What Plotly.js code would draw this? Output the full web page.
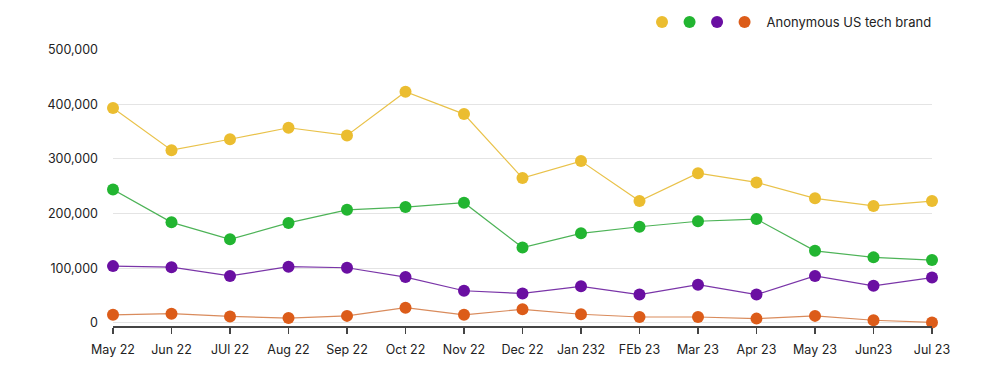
<!DOCTYPE html>
<html>
<head>
<meta charset="utf-8">
<script src="https://cdn.plot.ly/plotly-3.0.1.min.js"></script>
<style>html,body{margin:0;padding:0;background:#fff;}#chart{width:1000px;height:378px;}</style>
</head>
<body>
<div id="chart"></div>
<script>
const months = ["May 22","Jun 22","JUl 22","Aug 22","Sep 22","Oct 22","Nov 22","Dec 22","Jan 232","FEb 23","Mar 23","Apr 23","May 23","Jun23","Jul 23"];
const seriesNames = ["", "", "", "Anonymous US tech brand"];
const yellowValues = [393000,316000,336000,357000,343000,423000,382000,265000,296000,223000,274000,257000,228000,214000,223000];
const greenValues  = [244000,184000,153000,183000,207000,212000,220000,138000,164000,176000,186000,190000,132000,120000,115000];
const purpleValues = [104000,102000,86000,103000,101000,84000,59000,54000,67000,52000,70000,52000,86000,68000,83000];
const orangeValues = [15000,17000,12000,9000,13000,28000,15000,25000,16000,11000,11000,8000,13000,5000,1000];
const yTickVals = [0,100000,200000,300000,400000,500000];
const yTickText = ["0","100,000","200,000","300,000","400,000","500,000"];

const allValues = [yellowValues, greenValues, purpleValues, orangeValues];
const markerColors = ["#EBBD30", "#22B531", "#6A0FA2", "#DC5C19"];
const lineColors = ["#E9C24A", "#4DB357", "#7A35A8", "#D98B5C"];

const traces = [];
allValues.forEach((vals, i) => {
  traces.push({
    type: "scatter", mode: "lines", x: months, y: vals,
    line: {color: lineColors[i], width: 1.2},
    showlegend: false, hoverinfo: "skip", cliponaxis: false
  });
});
allValues.forEach((vals, i) => {
  const t = {
    type: "scatter", mode: "markers", x: months, y: vals,
    name: seriesNames[i],
    marker: {color: markerColors[i], size: 12},
    showlegend: true, cliponaxis: false
  };
  if (i === allValues.length - 1) t.legendwidth = 0.26;
  traces.push(t);
});

const layout = {
  width: 1000, height: 378,
  margin: {l: 113, r: 68, t: 49, b: 52, autoexpand: false},
  paper_bgcolor: "#fff", plot_bgcolor: "#fff",
  font: {family: "Inter, 'Open Sans', sans-serif", size: 12.5, color: "#222"},
  xaxis: {
    type: "category", range: [0, 14],
    showgrid: false, zeroline: false,
    showline: true, linecolor: "#444", linewidth: 1.5,
    ticks: "outside", ticklen: 6, tickcolor: "#444", tickwidth: 1.5,
    ticklabelstandoff: 5,
    tickfont: {size: 12.5, color: "#222"}
  },
  yaxis: {
    range: [-5500, 501000],
    tickvals: yTickVals, ticktext: yTickText,
    showgrid: true, gridcolor: "#e4e4e4", gridwidth: 1,
    zeroline: false, showline: false, ticks: "",
    ticklabelstandoff: 14,
    tickfont: {size: 12.5, color: "#222"}
  },
  showlegend: true,
  legend: {
    orientation: "h", x: 0.6435, xanchor: "left", y: 1.0975, yanchor: "middle",
    entrywidthmode: "fraction", entrywidth: 0.0336, itemwidth: 34,
    font: {size: 13, color: "#222"}, traceorder: "normal",
    bgcolor: "rgba(0,0,0,0)"
  },
  hovermode: false
};

Plotly.newPlot("chart", traces, layout, {displayModeBar: false, staticPlot: true});
</script>
</body>
</html>
